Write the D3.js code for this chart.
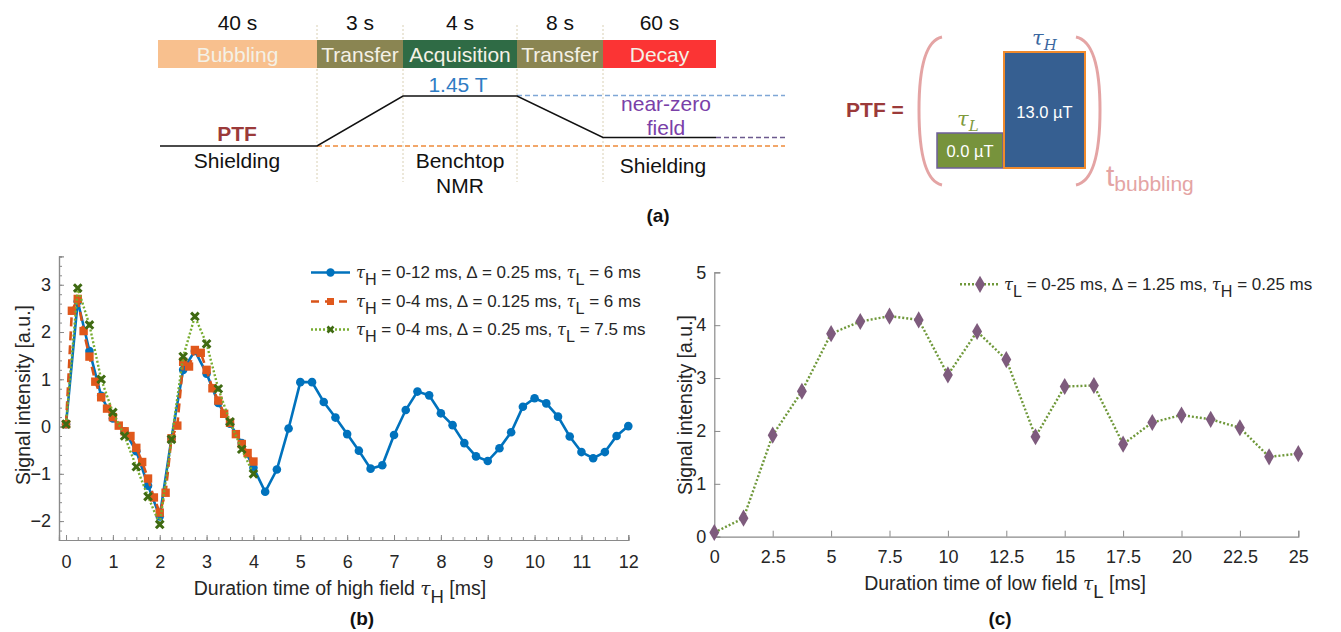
<!DOCTYPE html>
<html>
<head>
<meta charset="utf-8">
<script src="https://cdn.jsdelivr.net/npm/d3@7"></script>
<style>
  body { margin: 0; background: #fff; }
  svg { display: block; font-family: "Liberation Sans", Arial, sans-serif; }
</style>
</head>
<body>
<svg id="fig" width="1341" height="632"></svg>
<script>
// ---- (a) protocol diagram
const phases = ["Bubbling", "Transfer", "Acquisition", "Transfer", "Decay"];
const phaseTimes = ["40 s", "3 s", "4 s", "8 s", "60 s"];
const phaseColors = ["#f8c08e", "#8a8552", "#2f6b45", "#8a8552", "#fb3434"];
// field level at each phase boundary: 0 = shielding, 1 = near-zero, 2 = 1.45 T
const fieldProfile = [0, 0, 2, 2, 1, 1];

// ---- (b) high-field duration sweep
const tauH1 = d3.range(0, 12.001, 0.25);
const sig1 = [0.05, 2.65, 1.6, 0.65, 0.17, -0.1, -0.52, -1.25, -1.9, -0.25, 1.2, 1.6,
  1.12, 0.5, 0.06, -0.35, -0.87, -1.38, -0.91, -0.04, 0.94, 0.94, 0.52, 0.19,
  -0.16, -0.51, -0.89, -0.82, -0.18, 0.35, 0.74, 0.66, 0.28, 0.03, -0.35, -0.63,
  -0.73, -0.46, -0.12, 0.42, 0.6, 0.49, 0.21, -0.21, -0.54, -0.67, -0.54, -0.2, 0.01];
const tauH2 = d3.range(0, 4.001, 0.125);
const sig2 = [0.05, 2.45, 2.7, 2.02, 1.48, 0.95, 0.62, 0.38, 0.2, 0.02, -0.1, -0.2,
  -0.45, -0.75, -1.1, -1.5, -1.82, -1.4, -0.25, 0.02, 1.37, 1.27, 1.62, 1.56,
  1.2, 0.81, 0.55, 0.27, 0.08, -0.16, -0.37, -0.56, -0.74];
const tauH3 = d3.range(0, 4.001, 0.25);
const sig3 = [0.05, 2.93, 2.15, 1.0, 0.3, -0.2, -0.85, -1.48, -2.07, -0.27, 1.48,
  2.33, 1.75, 0.8, 0.1, -0.48, -1.0];
const legendB = [
  ["0-12 ms", "0.25 ms", "6 ms"],
  ["0-4 ms", "0.125 ms", "6 ms"],
  ["0-4 ms", "0.25 ms", "7.5 ms"]
];

// ---- (c) low-field duration sweep
const tauL = d3.range(0, 25.001, 1.25);
const sigL = [0.08, 0.35, 1.92, 2.75, 3.84, 4.07, 4.17, 4.1, 3.06, 3.88, 3.35, 1.89,
  2.84, 2.86, 1.75, 2.16, 2.3, 2.22, 2.06, 1.51, 1.57];

const svg = d3.select("#fig");
const ink = "#262626", axisCol = "#8a8a8a";

// ================= (a) =================
const edges = [158, 317, 403, 517, 603, 716];
const levelY = d3.scaleLinear().domain([0, 1, 2]).range([146, 137.5, 96]);

edges.slice(1, 5).forEach(x => {
  svg.append("line").attr("x1", x).attr("x2", x).attr("y1", 25).attr("y2", 182)
    .attr("stroke", "#d9d0b4").attr("stroke-width", 1).attr("stroke-dasharray", "2,2");
});

phases.forEach((p, i) => {
  const x0 = edges[i], x1 = edges[i + 1];
  svg.append("rect").attr("x", x0).attr("y", 40).attr("width", x1 - x0).attr("height", 28)
    .attr("fill", phaseColors[i]);
  svg.append("text").attr("x", (x0 + x1) / 2).attr("y", 62).attr("text-anchor", "middle")
    .attr("font-size", 21).attr("fill", "#f4f1e6").text(p);
  svg.append("text").attr("x", (x0 + x1) / 2).attr("y", 30).attr("text-anchor", "middle")
    .attr("font-size", 21).attr("fill", "#111").text(phaseTimes[i]);
});

// reference dashed lines
svg.append("line").attr("x1", 317).attr("x2", 785).attr("y1", 146).attr("y2", 146)
  .attr("stroke", "#ee8a3a").attr("stroke-width", 1.3).attr("stroke-dasharray", "5,3");
svg.append("line").attr("x1", 517).attr("x2", 785).attr("y1", 95.5).attr("y2", 95.5)
  .attr("stroke", "#7fa7d6").attr("stroke-width", 1.3).attr("stroke-dasharray", "5,3");
svg.append("line").attr("x1", 716).attr("x2", 785).attr("y1", 137.5).attr("y2", 137.5)
  .attr("stroke", "#6c5a8e").attr("stroke-width", 1.3).attr("stroke-dasharray", "5,3");

const profPts = fieldProfile.map((lv, i) => [i === 0 ? 160 : edges[i], levelY(lv)]);
svg.append("path").attr("d", d3.line()(profPts)).attr("fill", "none")
  .attr("stroke", "#111").attr("stroke-width", 1.5);

const txtA = (x, y, s, col, opt = {}) => svg.append("text").attr("x", x).attr("y", y)
  .attr("text-anchor", "middle").attr("font-size", opt.size || 21)
  .attr("font-weight", opt.bold ? "bold" : null).attr("fill", col).text(s);
txtA(237, 141, "PTF", "#9b3a3a", { bold: true });
txtA(237, 168, "Shielding", "#111");
txtA(458, 92, "1.45 T", "#2f7cc4");
txtA(666, 111, "near-zero", "#7a40a8");
txtA(666, 135, "field", "#7a40a8");
txtA(460, 168, "Benchtop", "#111");
txtA(460, 193, "NMR", "#111");
txtA(663, 173, "Shielding", "#111");
txtA(658, 222, "(a)", "#111", { bold: true, size: 19 });

// PTF shape
svg.append("text").attr("x", 875).attr("y", 117).attr("text-anchor", "middle")
  .attr("font-size", 21).attr("font-weight", "bold").attr("fill", "#9b3a3a").text("PTF =");
const brk = "#e4a4a4";
svg.append("path").attr("d", "M942,37 Q919,42 919,110 Q919,180 942,185")
  .attr("fill", "none").attr("stroke", brk).attr("stroke-width", 3);
svg.append("path").attr("d", "M1076,37 Q1100,42 1100,110 Q1100,180 1076,185")
  .attr("fill", "none").attr("stroke", brk).attr("stroke-width", 3);
svg.append("rect").attr("x", 937).attr("y", 133).attr("width", 66).attr("height", 35)
  .attr("fill", "#77933c").attr("stroke", "#6f5f9a").attr("stroke-width", 1.5);
svg.append("rect").attr("x", 1004).attr("y", 52).attr("width", 81).attr("height", 116)
  .attr("fill", "#365f91").attr("stroke", "#f08a2c").attr("stroke-width", 2);
svg.append("text").attr("x", 970).attr("y", 157).attr("text-anchor", "middle")
  .attr("font-size", 16.5).attr("fill", "#fff").text("0.0 µT");
svg.append("text").attr("x", 1044.5).attr("y", 118).attr("text-anchor", "middle")
  .attr("font-size", 16.5).attr("fill", "#fff").text("13.0 µT");
const tauLab = (x, y, sub, col) => {
  const t = svg.append("text").attr("x", x).attr("y", y).attr("fill", col)
    .attr("font-family", "'DejaVu Serif', serif").attr("font-style", "italic").attr("font-size", 21);
  t.append("tspan").text("τ");
  t.append("tspan").attr("font-size", 15).attr("dy", 5).text(sub);
};
tauLab(957, 126, "L", "#7f9a3c");
tauLab(1032, 45, "H", "#3b67a0");
const tb = svg.append("text").attr("x", 1106).attr("y", 186).attr("fill", "#e4a4a4").attr("font-size", 30);
tb.append("tspan").text("t");
tb.append("tspan").attr("font-size", 21).attr("dy", 5).text("bubbling");

// ================= shared helpers =================
// parts: plain strings or {tau: "H"} for an italic tau with a subscript
function richText(t, parts, size) {
  const shift = size * 0.42;
  let lowered = false;
  parts.forEach(p => {
    if (typeof p === "string") {
      t.append("tspan").attr("dy", lowered ? -shift : 0).text(p);
      lowered = false;
    } else {
      t.append("tspan").attr("dy", lowered ? -shift : 0)
        .attr("font-style", "italic").attr("font-family", "'DejaVu Serif', serif")
        .attr("font-size", size * 0.95).text("τ");
      t.append("tspan").attr("font-size", size * 0.95).attr("dy", shift).text(p.tau);
      lowered = true;
    }
  });
}
function styleAxis(a, size) {
  a.select(".domain").attr("stroke", axisCol).attr("stroke-width", 1.2);
  a.selectAll(".tick line").attr("stroke", axisCol);
  a.selectAll("text").attr("font-size", size).attr("fill", ink)
    .attr("font-family", "'Liberation Sans', Arial, sans-serif");
}

// ================= (b) =================
const xb = d3.scaleLinear().domain([-0.15, 12]).range([59, 628.3]);
const yb = d3.scaleLinear().domain([-2.4, 3.6]).range([540, 256.4]);
const gb = svg.append("g");

const axB = gb.append("g").attr("transform", "translate(0,540)")
  .call(d3.axisBottom(xb).tickValues(d3.range(0, 12.001, 1)).tickSize(-5)
    .tickFormat(d3.format("d")));
const axBm = gb.append("g").attr("transform", "translate(0,540)")
  .call(d3.axisBottom(xb).tickValues(d3.range(0, 12.001, 0.25)).tickSize(-3).tickFormat(""));
const ayB = gb.append("g").attr("transform", "translate(59,0)")
  .call(d3.axisLeft(yb).tickValues([-2, -1, 0, 1, 2, 3]).tickSize(-5).tickPadding(10)
    .tickFormat(d3.format("d")));
const ayBm = gb.append("g").attr("transform", "translate(59,0)")
  .call(d3.axisLeft(yb).tickValues(d3.range(-2.4, 3.601, 0.2)).tickSize(-3).tickFormat(""));
[axB, axBm, ayB, ayBm].forEach(a => styleAxis(a, 18));
axB.selectAll("text").attr("dy", "0.35em").attr("y", 22);
ayB.selectAll("text").attr("x", -8);

// series
const lineB = d3.line().x(d => xb(d[0])).y(d => yb(d[1]));
const s1 = tauH1.map((t, i) => [t, sig1[i]]);
const s2 = tauH2.map((t, i) => [t, sig2[i]]);
const s3 = tauH3.map((t, i) => [t, sig3[i]]);

gb.append("path").attr("d", lineB(s1)).attr("fill", "none").attr("stroke", "#0072bd").attr("stroke-width", 2.6);
gb.selectAll(".m1").data(s1).enter().append("circle")
  .attr("cx", d => xb(d[0])).attr("cy", d => yb(d[1])).attr("r", 4.3).attr("fill", "#0072bd");

gb.append("path").attr("d", lineB(s2)).attr("fill", "none").attr("stroke", "#d95319")
  .attr("stroke-width", 2.6).attr("stroke-dasharray", "9,5");
gb.selectAll(".m2").data(s2).enter().append("rect")
  .attr("x", d => xb(d[0]) - 4.2).attr("y", d => yb(d[1]) - 4.2).attr("width", 8.4).attr("height", 8.4)
  .attr("fill", "#e0581c");

gb.append("path").attr("d", lineB(s3)).attr("fill", "none").attr("stroke", "#77ac30")
  .attr("stroke-width", 2.4).attr("stroke-dasharray", "2,2");
const cross = "M-3.8,-3.8L3.8,3.8M-3.8,3.8L3.8,-3.8";
gb.selectAll(".m3").data(s3).enter().append("path")
  .attr("transform", d => `translate(${xb(d[0])},${yb(d[1])})`)
  .attr("d", cross).attr("stroke", "#3f6a12").attr("stroke-width", 3).attr("fill", "none");

// legend (b)
const legRows = [272.5, 301.5, 329.5];
legRows.forEach((y, i) => {
  const lg = gb.append("g");
  if (i === 0) {
    lg.append("line").attr("x1", 311).attr("x2", 350).attr("y1", y).attr("y2", y)
      .attr("stroke", "#0072bd").attr("stroke-width", 2.6);
    lg.append("circle").attr("cx", 330.5).attr("cy", y).attr("r", 4.2).attr("fill", "#0072bd");
  } else if (i === 1) {
    lg.append("line").attr("x1", 311).attr("x2", 350).attr("y1", y).attr("y2", y)
      .attr("stroke", "#d95319").attr("stroke-width", 2.6).attr("stroke-dasharray", "8,6");
    lg.append("rect").attr("x", 327).attr("y", y - 3.5).attr("width", 7).attr("height", 7).attr("fill", "#e0581c");
  } else {
    lg.append("line").attr("x1", 311).attr("x2", 350).attr("y1", y).attr("y2", y)
      .attr("stroke", "#77ac30").attr("stroke-width", 2.4).attr("stroke-dasharray", "2,2");
    lg.append("path").attr("transform", `translate(330.5,${y})`).attr("d", "M-3,-3L3,3M-3,3L3,-3")
      .attr("stroke", "#3f6a12").attr("stroke-width", 2.6);
  }
  const t = lg.append("text").attr("x", 356).attr("y", y + 5).attr("font-size", 17).attr("fill", ink);
  richText(t, [{ tau: "H" }, ` = ${legendB[i][0]}, ∆ = ${legendB[i][1]}, `, { tau: "L" }, ` = ${legendB[i][2]}`], 17);
});

// axis titles (b)
{
  const t = gb.append("text").attr("x", 340).attr("y", 595).attr("text-anchor", "middle")
    .attr("font-size", 19.5).attr("fill", ink);
  richText(t, ["Duration time of high field  ", { tau: "H" }, " [ms]"], 19.5);
  gb.append("text").attr("transform", "translate(30,395) rotate(-90)").attr("text-anchor", "middle")
    .attr("font-size", 19.5).attr("fill", ink).text("Signal intensity [a.u.]");
  gb.append("text").attr("x", 362).attr("y", 625).attr("text-anchor", "middle")
    .attr("font-size", 19).attr("font-weight", "bold").attr("fill", "#111").text("(b)");
}

// ================= (c) =================
const xc = d3.scaleLinear().domain([0, 25]).range([714.3, 1298.3]);
const yc = d3.scaleLinear().domain([0, 5]).range([536.7, 272.3]);
const gc = svg.append("g");
const axC = gc.append("g").attr("transform", "translate(0,536.7)")
  .call(d3.axisBottom(xc).tickValues(d3.range(0, 25.001, 2.5)).tickSize(-6)
    .tickFormat(d => d3.format("~g")(d)));
const ayC = gc.append("g").attr("transform", "translate(714.3,0)")
  .call(d3.axisLeft(yc).tickValues([0, 1, 2, 3, 4, 5]).tickSize(-6)
    .tickFormat(d3.format("d")));
[axC, ayC].forEach(a => styleAxis(a, 18));
axC.selectAll("text").attr("dy", "0.35em").attr("y", 20);
ayC.selectAll("text").attr("x", -8);

const sc = tauL.map((t, i) => [t, sigL[i]]);
const lineC = d3.line().x(d => xc(d[0])).y(d => yc(d[1]));
gc.append("path").attr("d", lineC(sc)).attr("fill", "none").attr("stroke", "#6f983a")
  .attr("stroke-width", 2.4).attr("stroke-dasharray", "2,2");
const diamond = d3.symbol().type(d3.symbolDiamond).size(85);
gc.selectAll(".mc").data(sc).enter().append("path")
  .attr("transform", d => `translate(${xc(d[0])},${yc(d[1])})`)
  .attr("d", diamond).attr("fill", "#7e5b7d");

// legend (c)
gc.append("line").attr("x1", 960).attr("x2", 999).attr("y1", 284.3).attr("y2", 284.3)
  .attr("stroke", "#6f983a").attr("stroke-width", 2.4).attr("stroke-dasharray", "2,2");
gc.append("path").attr("transform", "translate(980,284.3)").attr("d", diamond).attr("fill", "#7e5b7d");
{
  const t = gc.append("text").attr("x", 1004).attr("y", 290).attr("font-size", 17).attr("fill", ink);
  richText(t, [{ tau: "L" }, " = 0-25 ms, ∆ = 1.25 ms, ", { tau: "H" }, " = 0.25 ms"], 17);
}
{
  const t = gc.append("text").attr("x", 1005).attr("y", 590).attr("text-anchor", "middle")
    .attr("font-size", 19.5).attr("fill", ink);
  richText(t, ["Duration time of low field  ", { tau: "L" }, " [ms]"], 19.5);
  gc.append("text").attr("transform", "translate(692,405) rotate(-90)").attr("text-anchor", "middle")
    .attr("font-size", 19.5).attr("fill", ink).text("Signal intensity [a.u.]");
  gc.append("text").attr("x", 1000).attr("y", 625).attr("text-anchor", "middle")
    .attr("font-size", 19).attr("font-weight", "bold").attr("fill", "#111").text("(c)");
}
</script>
</body>
</html>
